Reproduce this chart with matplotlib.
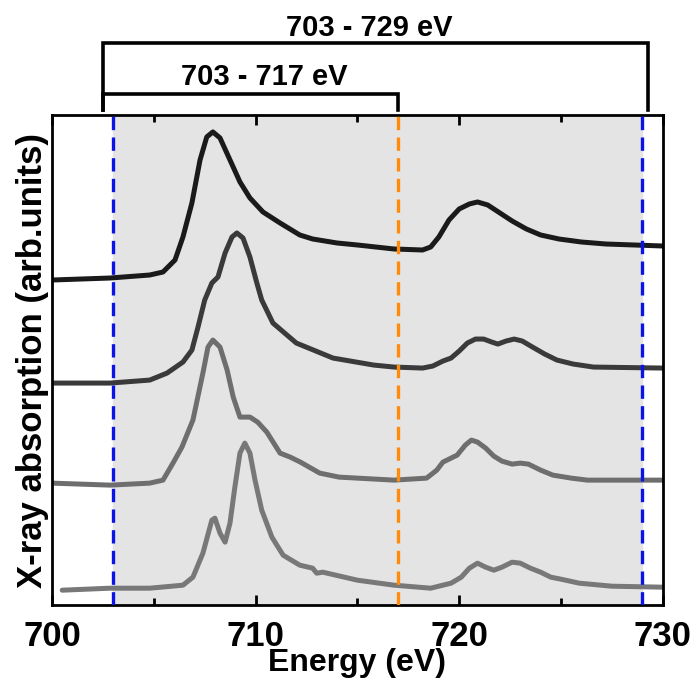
import matplotlib
matplotlib.use("Agg")
import matplotlib.pyplot as plt
import numpy as np

plt.rcParams['font.family'] = ['Liberation Sans', 'DejaVu Sans']
plt.rcParams['font.weight'] = 'bold'

# spectra: energies in eV and heights (arb. units)
e1 = [700.0, 702.85, 704.8, 705.45, 706.04, 706.43, 706.87, 707.27, 707.6, 707.9,
      708.25, 708.74, 709.23, 709.72, 710.36, 711.2, 712.17, 712.8, 714.0, 715.0,
      716.8, 718.2, 718.6, 719.0, 719.5, 720.0, 720.5, 720.9, 721.4, 722.0,
      722.6, 723.3, 724.0, 724.9, 726.0, 727.2, 730.0]
y1 = [325, 327, 330, 333, 345, 368, 402, 445, 468, 473,
      467, 445, 423, 407, 393, 382, 370, 366, 362, 360,
      356, 355, 358, 368, 385, 396, 401, 403, 400, 392,
      384, 376, 370, 366, 363, 361, 359]

e2 = [700.0, 702.85, 704.8, 705.65, 706.43, 706.87, 707.17, 707.5, 707.85, 708.15,
      708.5, 708.84, 709.08, 709.38, 709.72, 710.06, 710.3, 710.85, 712.0, 713.8,
      715.8, 716.8, 718.2, 718.7, 719.2, 719.6, 720.0, 720.4, 720.8, 721.2,
      721.6, 721.9, 722.3, 722.7, 723.1, 723.6, 724.2, 724.8, 725.6, 726.6,
      730.0]
y2 = [222, 222, 225, 232, 243, 255, 278, 305, 322, 328,
      352, 368, 372, 367, 348, 322, 305, 282, 262, 247,
      240, 238, 237, 239, 244, 247, 254, 262, 266, 266,
      263, 261, 264, 266, 264, 258, 251, 245, 241, 238,
      237]

e3 = [700.0, 702.85, 704.8, 705.45, 705.94, 706.38, 706.92, 707.41, 707.66, 707.9,
      708.25, 708.6, 708.9, 709.23, 709.72, 710.1, 710.55, 711.2, 711.7, 712.2,
      713.15, 714.1, 716.8, 718.4, 718.9, 719.2, 719.6, 719.9, 720.3, 720.6,
      720.9, 721.3, 721.7, 722.1, 722.6, 723.0, 723.4, 724.0, 724.6, 725.5,
      726.3, 730.0]
y3 = [122, 120, 122, 125, 142, 158, 185, 232, 258, 265,
      258, 235, 208, 188, 188, 183, 173, 152, 148, 143,
      132, 128, 125, 127, 135, 143, 147, 150, 160, 165,
      163, 157, 149, 144, 141, 142, 141, 135, 130, 127,
      125, 125]

e4 = [700.5, 702.85, 704.8, 706.43, 706.92, 707.41, 707.85, 708.0, 708.25, 708.5,
      708.74, 708.98, 709.23, 709.47, 709.72, 709.97, 710.3, 710.8, 711.35, 712.17,
      712.8, 713.0, 713.3, 715.0, 716.8, 718.6, 719.6, 720.1, 720.5, 720.9,
      721.3, 721.7, 722.1, 722.6, 723.0, 723.5, 724.0, 724.5, 725.0, 725.9,
      727.5, 730.0]
y4 = [15, 17, 17, 20, 28, 52, 85, 87, 72, 63,
      82, 118, 152, 162, 152, 125, 95, 68, 50, 40,
      37, 32, 33, 25, 20, 17, 22, 28, 37, 42,
      38, 35, 38, 43, 42, 37, 33, 28, 26, 22,
      19, 18]

series = [(e1, y1, '#1a1a1a'), (e2, y2, '#3a3a3a'), (e3, y3, '#6e6e6e'), (e4, y4, '#787878')]

win_lo, win_mid, win_hi = 703, 717, 729

fig = plt.figure(figsize=(6.94, 6.80), dpi=100)
ax = fig.add_axes([0.075, 0.110, 0.880, 0.721])

ax.axvspan(win_lo, win_hi, color='#e5e4e5', zorder=0)
for e, y, c in series:
    ax.plot(e, y, color=c, lw=3.6, solid_joinstyle='round', solid_capstyle='round', zorder=2)

for xv, c in [(win_lo, '#0a14e6'), (win_mid, '#ff8a0c'), (win_hi, '#0a14e6')]:
    ax.axvline(xv, color=c, lw=2.4, ls=(0, (4, 2.2)), zorder=3)

ax.set_xlim(700, 730)
ax.set_ylim(0, 490)
ax.set_xticks([700, 710, 720, 730])
ax.set_xticks([705, 715, 725], minor=True)
ax.set_yticks([])
ax.tick_params(axis='x', which='both', direction='in', top=True, width=2, pad=11,
               labelsize=25)
ax.tick_params(axis='x', which='major', length=7)
ax.tick_params(axis='x', which='minor', length=5)
for s in ax.spines.values():
    s.set_linewidth(2)

ax.set_xlabel('Energy (eV)', fontsize=23, fontweight='bold', labelpad=-4)
ax.set_ylabel('X-ray absorption (arb.units)', fontsize=25, fontweight='bold', labelpad=2)

# brackets above the plot
tr = ax.get_xaxis_transform()
ax.plot([702.5, 702.5, 729.25, 729.25], [1.010, 1.147, 1.147, 1.010], color='black',
        lw=2.6, transform=tr, clip_on=False, solid_joinstyle='miter')
ax.plot([702.5, 702.5, 717.0, 717.0], [1.010, 1.042, 1.042, 1.010], color='black',
        lw=2.6, transform=tr, clip_on=False, solid_joinstyle='miter')
ax.text(715.6, 1.178, '703 - 729 eV', transform=tr, ha='center', va='center',
        fontsize=21, fontweight='bold')
ax.text(710.4, 1.078, '703 - 717 eV', transform=tr, ha='center', va='center',
        fontsize=21, fontweight='bold')

fig.savefig('out.png', dpi=100)
